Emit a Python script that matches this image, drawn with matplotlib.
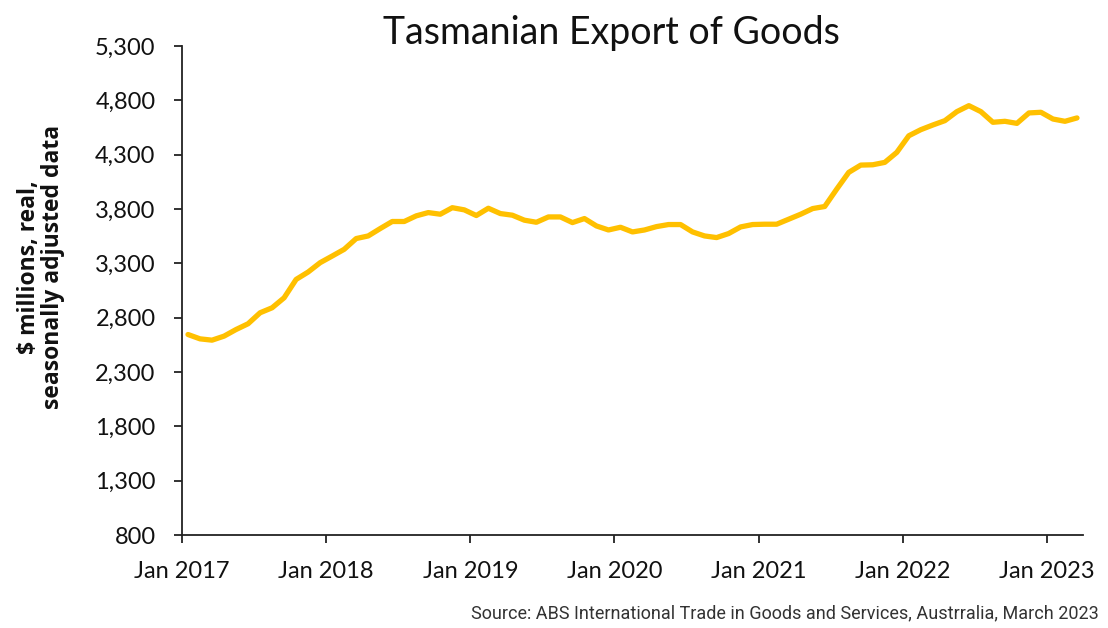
import matplotlib
matplotlib.use("Agg")
from matplotlib import pyplot as plt
from matplotlib.ticker import FuncFormatter

# monthly values, Jan 2017 .. Mar 2023
exports = [2645, 2605, 2593, 2630, 2691, 2744, 2845, 2891, 2983, 3152, 3220, 3306,
           3367, 3429, 3528, 3552, 3620, 3685, 3685, 3737, 3767, 3752, 3812, 3792,
           3740, 3807, 3758, 3743, 3697, 3678, 3727, 3727, 3675, 3712, 3644, 3607,
           3632, 3589, 3607, 3638, 3657, 3657, 3589, 3552, 3537, 3574, 3635, 3657,
           3660, 3660, 3706, 3752, 3804, 3823, 3983, 4137, 4204, 4207, 4229, 4321,
           4474, 4530, 4573, 4613, 4696, 4751, 4696, 4598, 4607, 4588, 4684, 4690,
           4628, 4607, 4638]
tick_labels = ['Jan 2017', 'Jan 2018', 'Jan 2019', 'Jan 2020', 'Jan 2021', 'Jan 2022', 'Jan 2023']
y_ticks = [800, 1300, 1800, 2300, 2800, 3300, 3800, 4300, 4800, 5300]

months = [i + 0.5 for i in range(len(exports))]

plt.rcParams['font.family'] = ['Lato', 'DejaVu Sans']

fig = plt.figure(figsize=(11.08, 6.28), dpi=100)
ax = fig.add_axes([182/1108, 1-535/628, (1083-182)/1108, (535-46)/628])

ax.plot(months, exports, color='#FFC000', lw=3.8, solid_capstyle='round', solid_joinstyle='round')

ax.set_xlim(0, 75)
ax.set_ylim(800, 5300)
ax.set_xticks([12*i for i in range(len(tick_labels))])
ax.set_xticklabels(tick_labels)
ax.set_yticks(y_ticks)
ax.yaxis.set_major_formatter(FuncFormatter(lambda v, p: f'{int(v):,}'))

for s in ['top', 'right']:
    ax.spines[s].set_visible(False)
for s in ['left', 'bottom']:
    ax.spines[s].set_linewidth(1.3)
    ax.spines[s].set_color('#222222')
ax.tick_params(axis='both', direction='out', length=6, width=1.3, color='#222222',
               labelsize=17, labelcolor='#111111')
ax.tick_params(axis='x', pad=13)
ax.tick_params(axis='y', pad=13)

fig.text(611/1108, 1-33/628, 'Tasmanian Export of Goods', ha='center', va='center',
         fontsize=27, color='#111111')
fig.text(41/1108, 1-267/628, '$ millions, real,\nseasonally adjusted data', rotation=90,
         ha='center', va='center', fontsize=16.5, fontweight='bold', color='#111111',
         linespacing=0.95, family=['Open Sans', 'DejaVu Sans'])
fig.text(1099/1108, 1-613/628,
         'Source: ABS International Trade in Goods and Services, Austrralia, March 2023',
         ha='right', va='center', fontsize=13, color='#333333', family=['Roboto', 'DejaVu Sans'])

fig.savefig('out.png', dpi=100)
